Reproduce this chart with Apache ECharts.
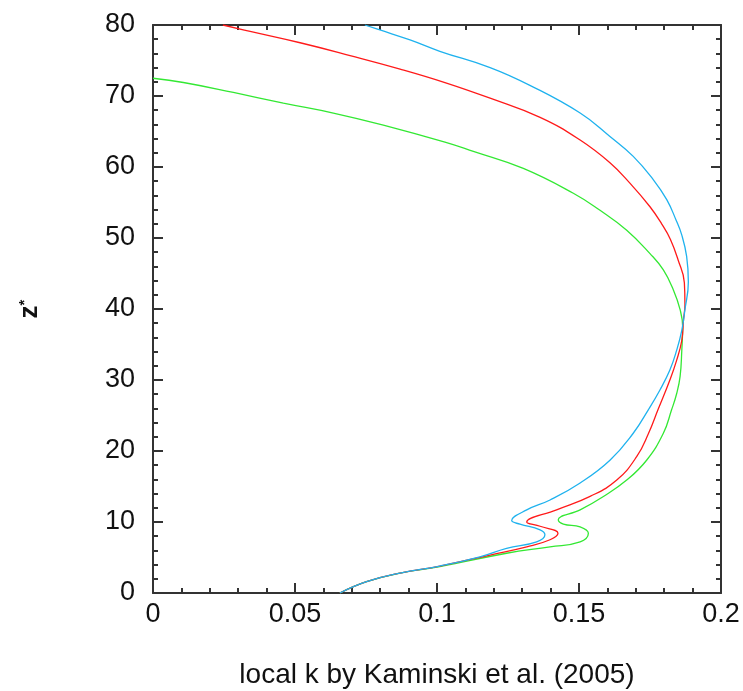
<!DOCTYPE html>
<html>
<head>
<meta charset="utf-8">
<script src="https://cdn.jsdelivr.net/npm/echarts@6/dist/echarts.min.js"></script>
<style>html,body{margin:0;padding:0;background:#fff}#c{width:743px;height:691px}</style>
</head>
<body>
<div id="c"></div>
<script>
// [local k, z*] pairs
const blueData = [
  [0.0746,80],[0.0799,79.3],[0.0905,77.9],[0.101,76.3],[0.1187,74.0],[0.1327,71.5],
  [0.1504,67.6],[0.1609,64.3],[0.1691,61.5],[0.1762,58.2],[0.1809,55.4],[0.1842,52.5],
  [0.1862,50.4],[0.1879,47.4],[0.1885,43.8],[0.1873,39.9],[0.1862,37.0],[0.1844,34.2],
  [0.182,31.4],[0.1785,28.6],[0.1744,25.8],[0.1691,22.5],[0.1609,18.7],[0.1504,15.5],
  [0.1398,13.1],[0.1316,11.7],[0.1263,10.2],[0.1292,9.7],[0.1363,8.9],[0.138,8.2],
  [0.1351,7.2],[0.1245,6.3],[0.1151,5.1],[0.101,3.8],[0.087,2.8],[0.0752,1.6],[0.0658,0]
];
const redData = [
  [0.0246,80],[0.0342,79.1],[0.0518,77.5],[0.0694,75.7],[0.087,73.8],[0.1028,71.9],
  [0.1187,69.7],[0.1363,67.0],[0.1504,63.8],[0.1609,60.6],[0.168,57.7],[0.175,54.4],
  [0.1791,52.0],[0.1822,49.8],[0.1849,46.9],[0.1871,43.7],[0.1873,40.6],[0.1868,38.5],
  [0.1862,35.6],[0.1844,32.8],[0.182,30.0],[0.1778,25.8],[0.1745,22.5],[0.1703,19.2],
  [0.1633,15.9],[0.1539,13.6],[0.1421,11.7],[0.1316,10.0],[0.1363,9.4],[0.1426,8.4],
  [0.1398,7.5],[0.1316,6.5],[0.1187,5.35],[0.101,3.8],[0.087,2.8],[0.0752,1.6],[0.0658,0]
];
const greenData = [
  [0,72.5],[0.0107,71.9],[0.0283,70.5],[0.0459,69.0],[0.0635,67.6],[0.0811,65.9],
  [0.1028,63.5],[0.1128,62.2],[0.1304,59.8],[0.148,56.3],[0.1574,53.9],[0.1668,51.1],
  [0.175,47.8],[0.1797,45.5],[0.1832,42.7],[0.1856,39.9],[0.1865,37.5],[0.1862,34.2],
  [0.1856,30.5],[0.1844,28.1],[0.1826,25.8],[0.1797,22.5],[0.1738,18.7],[0.1668,15.9],
  [0.1586,13.6],[0.1504,11.7],[0.1427,10.3],[0.1445,9.7],[0.1504,9.3],[0.1533,8.4],
  [0.1504,7.2],[0.1398,6.5],[0.1245,5.6],[0.101,3.7],[0.087,2.8],[0.0752,1.6],[0.0658,0]
];
const xTicks = {min: 0, max: 0.2, interval: 0.05};
const yTicks = {min: 0, max: 80, interval: 10};
const xTitle = 'local k by Kaminski et al. (2005)';

const font = '"Liberation Sans", Arial, sans-serif';
const axisLineStyle = {color: '#333', width: 2};
const labelStyle = {color: '#111', fontSize: 27, fontFamily: font};

function frameAxis(extra) {
  return Object.assign({
    type: 'value',
    axisLine: {show: true, onZero: false, lineStyle: axisLineStyle},
    axisTick: {show: true, inside: true, length: 10, lineStyle: {color: '#333', width: 2}},
    minorTick: {show: true, splitNumber: 5, length: 5, lineStyle: {color: '#333', width: 2}},
    splitLine: {show: false},
    minorSplitLine: {show: false}
  }, extra);
}

const chart = echarts.init(document.getElementById('c'), null, {renderer: 'canvas'});
chart.setOption({
  backgroundColor: '#fff',
  animation: false,
  grid: {left: 153, right: 22, top: 25, bottom: 98, containLabel: false, outerBoundsMode: 'none'},
  xAxis: [
    frameAxis(Object.assign({}, xTicks, {
      position: 'bottom',
      axisLabel: Object.assign({margin: 8}, labelStyle),
      name: xTitle, nameLocation: 'middle', nameGap: 68,
      nameTextStyle: {color: '#111', fontSize: 28, fontFamily: font}
    })),
    frameAxis(Object.assign({}, xTicks, {position: 'top', axisLabel: {show: false}}))
  ],
  yAxis: [
    frameAxis(Object.assign({}, yTicks, {
      position: 'left',
      axisLabel: Object.assign({margin: 18}, labelStyle),
      name: 'z{s|*}', nameLocation: 'middle', nameGap: 110, nameRotate: 90,
      nameTextStyle: {color: '#111', fontSize: 26, fontWeight: 'bold', fontFamily: font,
        rich: {s: {fontSize: 15, fontWeight: 'bold', verticalAlign: 'top', color: '#111', padding: [0,0,10,0]}}}
    })),
    frameAxis(Object.assign({}, yTicks, {position: 'right', axisLabel: {show: false}}))
  ],
  series: [
    {type: 'line', data: greenData, showSymbol: false, symbol: 'none', smooth: 0.45, clip: true,
     lineStyle: {color: '#33e833', width: 1.3}},
    {type: 'line', data: redData, showSymbol: false, symbol: 'none', smooth: 0.45, clip: true,
     lineStyle: {color: '#ff1a1a', width: 1.3}},
    {type: 'line', data: blueData, showSymbol: false, symbol: 'none', smooth: 0.45, clip: true,
     lineStyle: {color: '#1fb2ee', width: 1.3}}
  ]
});
</script>
</body>
</html>
